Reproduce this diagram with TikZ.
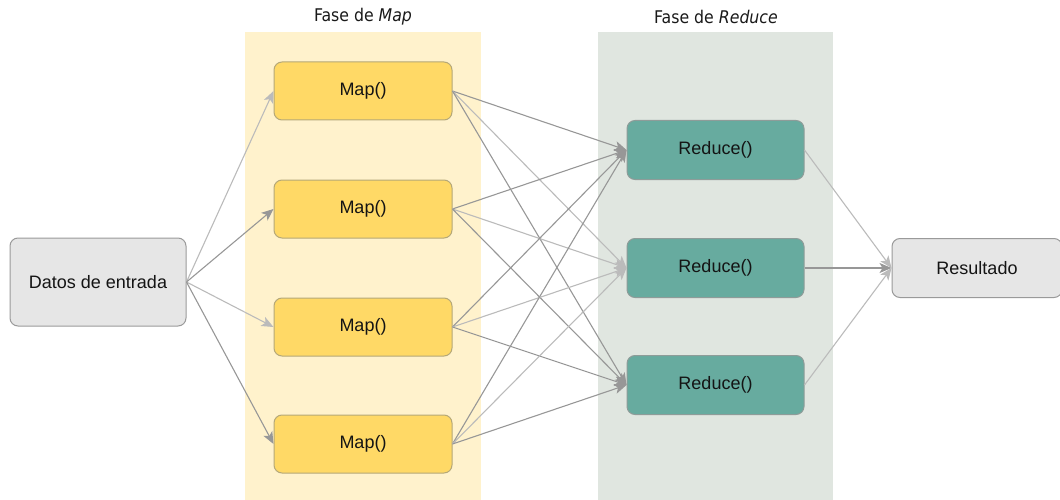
\documentclass[tikz,border=0pt]{standalone}
\usepackage{fontspec}
\setmainfont{Liberation Sans}
\newfontfamily\titlefont{DejaVu Sans Condensed}
\usetikzlibrary{arrows.meta}
\definecolor{mapband}{HTML}{FFF2CC}
\definecolor{redband}{HTML}{E0E6E0}
\definecolor{mapfill}{HTML}{FFD966}
\definecolor{mapline}{HTML}{B5A878}
\definecolor{redfill}{HTML}{67AB9F}
\definecolor{redline}{HTML}{8E9C99}
\definecolor{iofill}{HTML}{E6E6E6}
\definecolor{ioline}{HTML}{9A9A9A}
\definecolor{flow}{HTML}{979797}
\definecolor{flowlight}{HTML}{BBBBBB}
\tikzset{
  box/.style={draw, rounded corners=8pt, line width=1pt, inner sep=0pt,
    font=\fontsize{18}{21}\selectfont, text=black!92},
  iobox/.style={box, fill=iofill, draw=ioline},
  mapbox/.style={box, fill=mapfill, draw=mapline, minimum width=178pt, minimum height=58pt},
  redbox/.style={box, fill=redfill, draw=redline, minimum width=177pt, minimum height=59pt},
  flowarrow/.style={draw=flow, line width=1.1pt, -{Stealth[length=12pt,width=10pt,inset=3pt]}},
  flowlightarrow/.style={flowarrow, draw=flowlight},
  phase/.style={font=\titlefont\fontsize{17.5}{20}\selectfont, text=black!90}
}
\begin{document}
\begin{tikzpicture}[x=1pt,y=-1pt]
\useasboundingbox (0,0) rectangle (1060,500);
% phase bands
\fill[mapband] (245,32) rectangle (481,500);
\fill[redband] (598,32) rectangle (833,500);
\node[phase] (tmap) at (363,17) {Fase de \textit{Map}};
\node[phase] (tred) at (716,17) {Fase de \textit{Reduce}};
% input and output
\node[iobox, minimum width=176pt, minimum height=88pt] (in) at (98,282) {Datos de entrada};
\node[iobox, minimum width=170pt, minimum height=59pt] (out) at (977,268) {Resultado};
% map tasks
\node[mapbox] (m1) at (363,91) {Map()};
\node[mapbox] (m2) at (363,209) {Map()};
\node[mapbox] (m3) at (363,327) {Map()};
\node[mapbox] (m4) at (363,444) {Map()};
% reduce tasks
\node[redbox] (r1) at (715.5,150) {Reduce()};
\node[redbox] (r2) at (715.5,268) {Reduce()};
\node[redbox] (r3) at (715.5,385) {Reduce()};
% input split to the mappers
\draw[flowlightarrow] (in.east) -- (m1.west);
\draw[flowarrow] (in.east) -- (m2.west);
\draw[flowlightarrow] (in.east) -- (m3.west);
\draw[flowarrow] (in.east) -- (m4.west);
% shuffle: every mapper feeds every reducer
\foreach \m in {1,2,3,4}{
  \draw[flowarrow] (m\m.east) -- (r1.west);
  \draw[flowlightarrow] (m\m.east) -- (r2.west);
  \draw[flowarrow] (m\m.east) -- (r3.west);
}
% reducers to the result
\draw[flowlightarrow] (r1.east) -- (out.west);
\draw[flowarrow] (r2.east) -- (out.west);
\draw[flowlightarrow] (r3.east) -- (out.west);
\end{tikzpicture}
\end{document}
